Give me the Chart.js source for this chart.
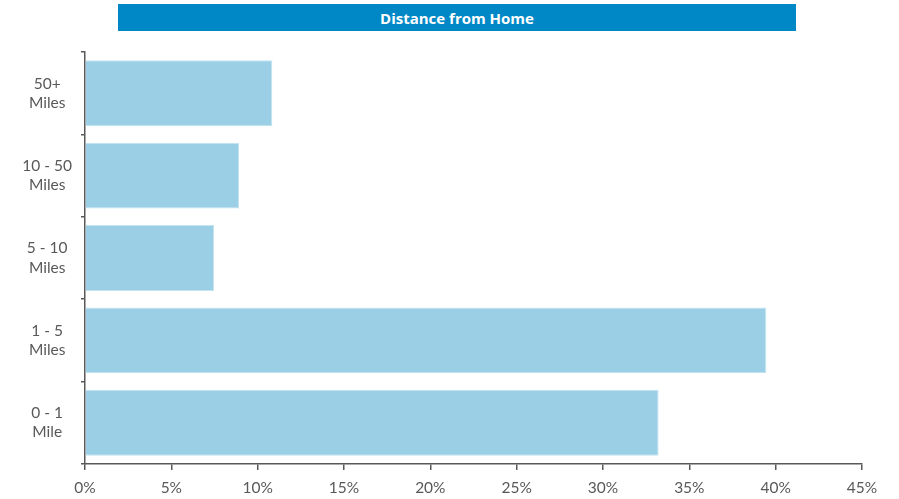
<!DOCTYPE html>
<html>
<head>
<meta charset="utf-8">
<title>Distance from Home</title>
<script src="https://cdn.jsdelivr.net/npm/chart.js@4/dist/chart.umd.min.js"></script>
<style>
  html, body { margin: 0; padding: 0; background: #fff; }
  #wrap { position: relative; width: 899px; height: 499px; }
  #titleBar {
    position: absolute; left: 118px; top: 4px; width: 678px; height: 27px;
    background: #0088c6; color: #fff; font: bold 15px "Open Sans", sans-serif;
    display: flex; align-items: center; justify-content: center;
  }
  canvas { position: absolute; left: 0; top: 0; }
</style>
</head>
<body>
<div id="wrap">
  <canvas id="distanceChart" width="899" height="499"></canvas>
  <div id="titleBar">Distance from Home</div>
</div>
<script>
const categories = [['50+', 'Miles'], ['10 - 50', 'Miles'], ['5 - 10', 'Miles'], ['1 - 5', 'Miles'], ['0 - 1', 'Mile']];
const shares = [10.85, 8.92, 7.47, 39.46, 33.22];
const tickValues = [0, 5, 10, 15, 20, 25, 30, 35, 40, 45];

const axisGrey = '#595959';
const labelFont = { family: 'Lato, "Open Sans", sans-serif', size: 15.5, lineHeight: 1.25 };

new Chart(document.getElementById('distanceChart'), {
  type: 'bar',
  data: {
    labels: categories,
    datasets: [{
      data: shares,
      backgroundColor: '#9bcfe6',
      borderColor: '#c3e3f1',
      borderWidth: 1,
      barPercentage: 0.8,
      categoryPercentage: 1
    }]
  },
  options: {
    indexAxis: 'y',
    responsive: false,
    animation: false,
    layout: { padding: { top: 52, left: 0, right: 37, bottom: 0 } },
    plugins: { legend: { display: false }, tooltip: { enabled: false } },
    scales: {
      x: {
        min: 0,
        max: 45,
        afterBuildTicks: axis => { axis.ticks = tickValues.map(v => ({ value: v })); },
        afterFit: axis => { axis.height = 35; },
        border: { display: true, color: axisGrey, width: 1.5 },
        grid: { drawOnChartArea: false, color: axisGrey, tickLength: 6, lineWidth: 1.5 },
        ticks: { color: axisGrey, font: labelFont, padding: 8, maxRotation: 0, callback: v => v + '%' }
      },
      y: {
        afterFit: axis => { axis.width = 85; },
        border: { display: true, color: axisGrey, width: 1.5 },
        grid: { offset: true, drawOnChartArea: false, color: axisGrey, tickLength: 4, lineWidth: 1.5 },
        ticks: { color: axisGrey, font: labelFont, padding: 9, crossAlign: 'center' }
      }
    }
  }
});
</script>
</body>
</html>
